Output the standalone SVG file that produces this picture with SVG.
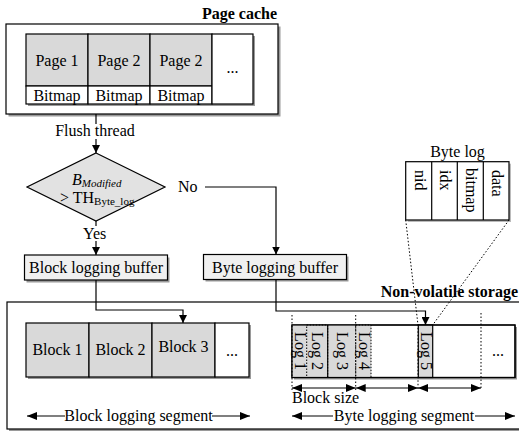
<svg xmlns="http://www.w3.org/2000/svg" width="519" height="432" viewBox="0 0 519 432">
  <defs>
    <marker id="arr" viewBox="0 0 10 10" refX="10" refY="5" markerWidth="8" markerHeight="8" markerUnits="userSpaceOnUse" orient="auto-start-reverse">
      <path d="M0,0 L10,5 L0,10 z" fill="#000"/>
    </marker>
    <marker id="arrw" viewBox="0 0 10 10" refX="10" refY="5" markerWidth="10" markerHeight="10" markerUnits="userSpaceOnUse" orient="auto-start-reverse">
      <path d="M0,1 L10,5 L0,9 z" fill="#000"/>
    </marker>
  </defs>
  <style>
    text { font-family: "Liberation Serif", "Times New Roman", serif; font-size: 16px; fill: #000; }
    .bold { font-weight: bold; }
    .mid { text-anchor: middle; }
    .box { fill: #fff; stroke: #000; stroke-width: 1.2; }
    .frame { fill: none; stroke: #000; stroke-width: 1.2; }
    .shadow { fill: #9a9a9a; }
    .gray { fill: #d9d9d9; stroke: #000; stroke-width: 1.2; }
    .grayfill { fill: #d9d9d9; stroke: none; }
    .dotbox { fill: #d9d9d9; stroke: #000; stroke-width: 1; stroke-dasharray: 1.5 1.5; }
    .buf { fill: #f0f0f0; stroke: #000; stroke-width: 1.2; }
    .line { fill: none; stroke: #000; stroke-width: 1.2; }
    .dot { fill: none; stroke: #000; stroke-width: 1; stroke-dasharray: 1.5 2; }
  </style>

  <!-- Page cache -->
  <g id="page-cache">
    <text class="bold" x="277" y="19" text-anchor="end">Page cache</text>
    <rect class="shadow" x="8.5" y="26.5" width="272" height="90"/>
    <rect class="box" x="6" y="24" width="272" height="90"/>
    <rect class="shadow" x="28" y="36" width="227" height="70"/>
    <rect class="gray" x="26" y="34" width="62" height="52"/>
    <rect class="gray" x="88" y="34" width="62" height="52"/>
    <rect class="gray" x="150" y="34" width="62" height="52"/>
    <rect class="box" x="26" y="86" width="62" height="18"/>
    <rect class="box" x="88" y="86" width="62" height="18"/>
    <rect class="box" x="150" y="86" width="62" height="18"/>
    <rect class="box" x="212" y="34" width="41" height="70"/>
    <text class="mid" x="57" y="66">Page 1</text>
    <text class="mid" x="119" y="66">Page 2</text>
    <text class="mid" x="181" y="66">Page 2</text>
    <text class="mid" x="57" y="101">Bitmap</text>
    <text class="mid" x="119" y="101">Bitmap</text>
    <text class="mid" x="181" y="101">Bitmap</text>
    <text class="mid" x="232.5" y="73" font-size="11">...</text>
  </g>

  <!-- Decision -->
  <g id="decision">
    <polygon points="96,153 165,187 96,221 27,187" fill="#e2e2e2" stroke="#000" stroke-width="1.2"/>
    <text x="72" y="185" font-style="italic">B<tspan font-size="11" dy="2">Modified</tspan></text>
    <text x="60" y="203">&gt; TH<tspan font-size="11" dy="2">Byte_log</tspan></text>
  </g>

  <!-- Buffers -->
  <g id="block-buffer">
    <rect class="shadow" x="26.5" y="257.5" width="143" height="25"/>
    <rect class="buf" x="24.5" y="255" width="143" height="25"/>
    <text class="mid" x="96" y="273">Block logging buffer</text>
  </g>
  <g id="byte-buffer">
    <rect class="shadow" x="205.5" y="256.5" width="143" height="25"/>
    <rect class="buf" x="203.5" y="254.5" width="143" height="25"/>
    <text class="mid" x="275" y="272.5">Byte logging buffer</text>
  </g>

  <!-- Byte log record layout -->
  <g id="byte-log">
    <text class="mid" x="457.5" y="157">Byte log</text>
    <rect x="407.7" y="163.7" width="103.3" height="58.3" fill="#bbb"/>
    <rect class="box" x="405.7" y="161.7" width="103.3" height="58.3"/>
    <line class="line" x1="431.7" y1="161.7" x2="431.7" y2="220"/>
    <line class="line" x1="457.3" y1="161.7" x2="457.3" y2="220"/>
    <line class="line" x1="483.3" y1="161.7" x2="483.3" y2="220"/>
    <text transform="translate(414.5,170) rotate(90)">nid</text>
    <text transform="translate(440.3,170) rotate(90)">idx</text>
    <text transform="translate(466,168) rotate(90)">bitmap</text>
    <text transform="translate(492,170) rotate(90)">data</text>
  </g>

  <!-- Non-volatile storage -->
  <g id="nv-storage">
    <rect class="shadow" x="9" y="304" width="520" height="127"/>
    <rect class="box" x="7" y="302" width="520" height="127"/>
    <text class="bold" x="518" y="297" text-anchor="end">Non-volatile storage</text>
  </g>

  <!-- Block logging segment -->
  <g id="block-segment">
    <rect class="shadow" x="28" y="325" width="223" height="54"/>
    <rect class="gray" x="26" y="323" width="63" height="54"/>
    <rect class="gray" x="89" y="323" width="63" height="54"/>
    <rect class="gray" x="152" y="323" width="63" height="54"/>
    <rect class="box" x="215" y="323" width="34" height="54"/>
    <text class="mid" x="57.5" y="355">Block 1</text>
    <text class="mid" x="120.5" y="355">Block 2</text>
    <text class="mid" x="183.5" y="352">Block 3</text>
    <text class="mid" x="232" y="356" font-size="11">...</text>
    <line class="line" x1="65" y1="416" x2="27" y2="416" marker-end="url(#arrw)"/>
    <line class="line" x1="212" y1="416" x2="250" y2="416" marker-end="url(#arrw)"/>
    <text class="mid" x="138.5" y="421">Block logging segment</text>
  </g>

  <!-- Byte logging segment -->
  <g id="byte-segment">
    <rect class="shadow" x="294" y="327" width="223" height="52.5"/>
    <rect class="box" x="292" y="325" width="223" height="52.5"/>
    <rect class="grayfill" x="292" y="325" width="14.7" height="52.5"/>
    <rect class="grayfill" x="327.7" y="325" width="28" height="52.5"/>
    <rect class="dotbox" x="306.7" y="325" width="21" height="52.5"/>
    <rect class="dotbox" x="355.7" y="325" width="15.3" height="52.5"/>
    <rect class="gray" x="418.3" y="325" width="14.4" height="52.5"/>
    <line class="line" x1="327.7" y1="325" x2="327.7" y2="377.5"/>
    <rect class="frame" x="292" y="325" width="223" height="52.5"/>
    <text class="mid" transform="translate(294.5,351) rotate(90)">Log 1</text>
    <text class="mid" transform="translate(312,351) rotate(90)">Log 2</text>
    <text class="mid" transform="translate(336.5,351) rotate(90)">Log 3</text>
    <text class="mid" transform="translate(358.5,351) rotate(90)">Log 4</text>
    <text class="mid" transform="translate(420.5,351) rotate(90)">Log 5</text>
    <text class="mid" x="498" y="356" font-size="11">...</text>
    <text x="292" y="403">Block size</text>
    <line class="line" x1="333" y1="416" x2="292" y2="416" marker-end="url(#arrw)"/>
    <line class="line" x1="475" y1="416" x2="515" y2="416" marker-end="url(#arrw)"/>
    <text class="mid" x="404" y="421">Byte logging segment</text>
  </g>

  <!-- Connectors -->
  <g id="connectors">
    <line class="line" x1="96" y1="114" x2="96" y2="124"/>
    <text class="mid" x="95" y="136">Flush thread</text>
    <line class="line" x1="96" y1="139" x2="96" y2="153" marker-end="url(#arr)"/>
    <line class="line" x1="96" y1="221" x2="96" y2="226"/>
    <text x="83" y="239">Yes</text>
    <line class="line" x1="96" y1="241" x2="96" y2="255" marker-end="url(#arr)"/>
    <text x="178" y="192">No</text>
    <polyline class="line" points="205,187 276,187 276,254.5" marker-end="url(#arr)"/>
    <polyline class="line" points="96,280 96,310 183,310 183,323" marker-end="url(#arr)"/>
    <polyline class="line" points="276,279.5 276,311 425.5,311 425.5,325" marker-end="url(#arr)"/>
    <!-- zoom lines from byte log to log 5 -->
    <polyline class="dot" points="405.7,220 418,325 418,390"/>
    <line class="dot" x1="509" y1="220" x2="432.7" y2="325"/>
    <!-- block boundaries -->
    <line class="dot" x1="292" y1="315" x2="292" y2="390"/>
    <line class="dot" x1="355.7" y1="315" x2="355.7" y2="390"/>
    <line class="dot" x1="481" y1="313" x2="481" y2="390"/>
    <line class="line" x1="292" y1="388" x2="355.7" y2="388" marker-start="url(#arrw)" marker-end="url(#arrw)"/>
    <line class="line" x1="355.7" y1="388" x2="418" y2="388" marker-start="url(#arrw)" marker-end="url(#arrw)"/>
    <line class="line" x1="418" y1="388" x2="481" y2="388" marker-start="url(#arrw)" marker-end="url(#arrw)"/>
  </g>
</svg>
